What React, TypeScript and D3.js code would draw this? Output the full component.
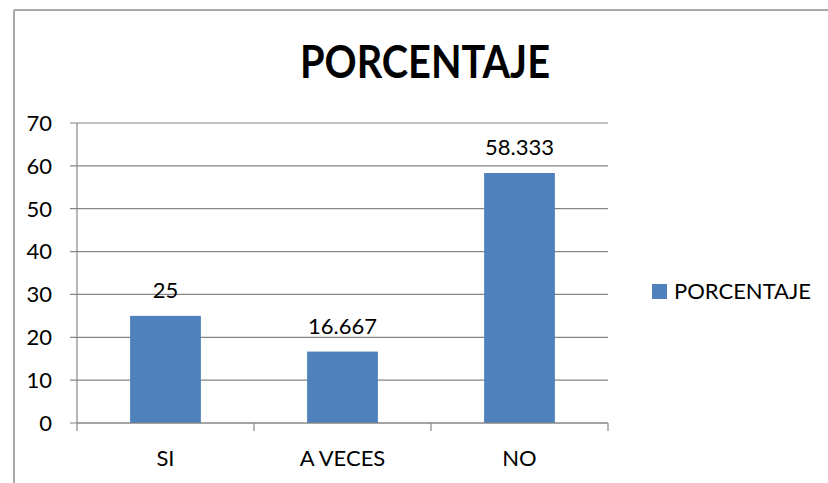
import React from "react";
import * as d3 from "d3";

const categories = ["SI", "A VECES", "NO"];
const values = [25, 16.667, 58.333];
const yTickValues = [0, 10, 20, 30, 40, 50, 60, 70];
const seriesName = "PORCENTAJE";
const titleText = "PORCENTAJE";

const W = 828;
const H = 483;
const FONT = "Lato, 'Open Sans', sans-serif";
const BAR = "#4F81BD";
const GRID = "#868686";

export default function App() {
  const x = d3
    .scaleBand<string>()
    .domain(categories)
    .range([77, 608])
    .paddingInner(0.6)
    .paddingOuter(0.3);
  const y = d3.scaleLinear().domain([0, 70]).range([423, 123]);
  const fmt = (v: number) => String(v);
  const step = x.step();
  const left = 77;
  const right = 608;

  return (
    <svg
      width={W}
      height={H}
      style={{ position: "absolute", left: 0, top: 0, background: "#fff" }}
      fontFamily={FONT}
    >
      <rect x={0} y={0} width={W} height={H} fill="#fff" />
      <line x1={14} y1={10} x2={W} y2={10} stroke="#8c8c8c" strokeWidth={1.5} />
      <line x1={14} y1={10} x2={14} y2={H} stroke="#8c8c8c" strokeWidth={1.5} />

      <text
        x={425}
        y={78}
        textAnchor="middle"
        fontSize={45}
        fontWeight="bold"
        fill="#000"
        textLength={250}
        lengthAdjust="spacingAndGlyphs"
      >
        {titleText}
      </text>

      {yTickValues.map((t) => (
        <g key={t}>
          <line x1={70} x2={right} y1={y(t)} y2={y(t)} stroke={GRID} strokeWidth={1.2} />
          <text x={52} y={y(t)} dy="0.36em" textAnchor="end" fontSize={22} fill="#000">
            {t}
          </text>
        </g>
      ))}
      <line x1={left} x2={left} y1={y(70)} y2={431} stroke={GRID} strokeWidth={1.2} />
      {categories.map((c, i) => (
        <line
          key={c}
          x1={left + step * (i + 1)}
          x2={left + step * (i + 1)}
          y1={y(0)}
          y2={431}
          stroke={GRID}
          strokeWidth={1.2}
        />
      ))}

      {categories.map((c, i) => (
        <rect
          key={c}
          x={x(c)}
          y={y(values[i])}
          width={x.bandwidth()}
          height={y(0) - y(values[i])}
          fill={BAR}
        />
      ))}
      <line x1={left} x2={right} y1={y(0)} y2={y(0)} stroke={GRID} strokeWidth={1.2} />

      {categories.map((c, i) => (
        <text
          key={c}
          x={(x(c) as number) + x.bandwidth() / 2}
          y={y(values[i]) - 18}
          textAnchor="middle"
          fontSize={22}
          fill="#000"
        >
          {fmt(values[i])}
        </text>
      ))}

      {categories.map((c) => (
        <text
          key={c}
          x={(x(c) as number) + x.bandwidth() / 2}
          y={466}
          textAnchor="middle"
          fontSize={22}
          fill="#000"
        >
          {c}
        </text>
      ))}

      <rect x={652} y={284} width={15} height={15} fill={BAR} />
      <text x={674} y={299} fontSize={22} fill="#000">
        {seriesName}
      </text>
    </svg>
  );
}
